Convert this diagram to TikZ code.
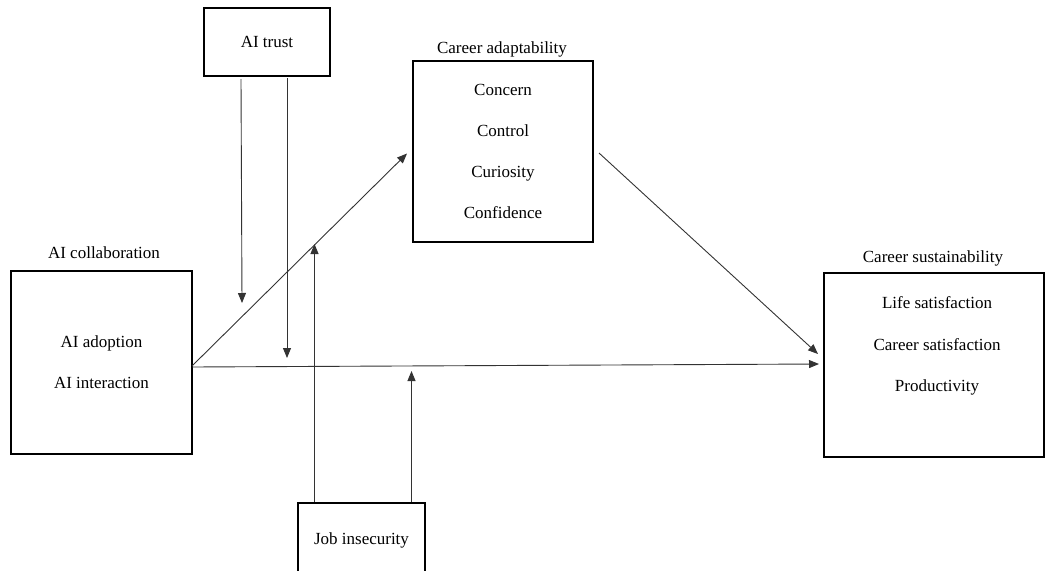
\documentclass[tikz,border=0pt]{standalone}
\usepackage{fontspec}
\setmainfont{Liberation Serif}
\usetikzlibrary{arrows.meta}

\tikzset{
  box/.style={draw=black, line width=2pt, rectangle, inner sep=0pt, outer sep=0pt,
              font=\fontsize{17}{41}\selectfont, align=center},
  items/.style={inner sep=0pt, font=\fontsize{17}{41.5}\selectfont, align=center},
  lbl/.style={inner sep=0pt, font=\fontsize{17}{20}\selectfont},
  link/.style={draw=black!80, line width=0.9pt, -{Triangle[length=10pt,width=8pt]}},
  bar/.style={draw=black!80, line width=0.9pt}
}

\begin{document}
\begin{tikzpicture}[x=1pt, y=-1pt]
  \useasboundingbox (0,0) rectangle (1046,570);
  \clip (0,0) rectangle (1046,570);

  % construct boxes
  \node[box, minimum width=181pt, minimum height=183pt] (collab) at (101.5,362.5)
    {AI adoption\\AI interaction};
  \node[box, minimum width=126pt, minimum height=68pt] (trust) at (267,42) {AI trust};
  \node[box, minimum width=180pt, minimum height=181pt] (adapt) at (503,151.5)
    {Concern\\Control\\Curiosity\\Confidence};
  \node[box, minimum width=220pt, minimum height=184pt] (sustain) at (934,365) {};
  \node[items] (sustainitems) at (937,346) {Life satisfaction\\Career satisfaction\\Productivity};
  \node[box, minimum width=127pt, minimum height=74pt] (job) at (361.5,540) {Job insecurity};

  % headings above the boxes
  \node[lbl] (collablbl) at (104,253) {AI collaboration};
  \node[lbl] (adaptlbl) at (502,49) {Career adaptability};
  \node[lbl] (sustainlbl) at (933,258) {Career sustainability};

  % main paths
  \draw[link] ([yshift=-3.5pt]collab.east) -- ([xshift=-6pt,yshift=-2pt]adapt.west);
  \draw[link] ([yshift=-4.5pt]collab.east) -- ([xshift=-5pt,yshift=1pt]sustain.west);
  \draw[link] ([xshift=6pt,yshift=-1.5pt]adapt.east) -- ([xshift=-6pt,yshift=11pt]sustain.west);

  % moderating paths from AI trust
  \coordinate (trustA) at (242,303);
  \coordinate (trustB) at (287,358);
  \draw[link] ([xshift=-26pt,yshift=-3pt]trust.south) -- (trustA);
  \draw[link] ([xshift=20pt,yshift=-2pt]trust.south) -- (trustB);

  % moderating paths from job insecurity
  \coordinate (jobA) at (314.5,244);
  \coordinate (jobB) at (411.5,371);
  \draw[link] ([xshift=-47pt,yshift=1pt]job.north) -- (jobA);
  \draw[link] ([xshift=50pt,yshift=1pt]job.north) -- (jobB);
\end{tikzpicture}
\end{document}
